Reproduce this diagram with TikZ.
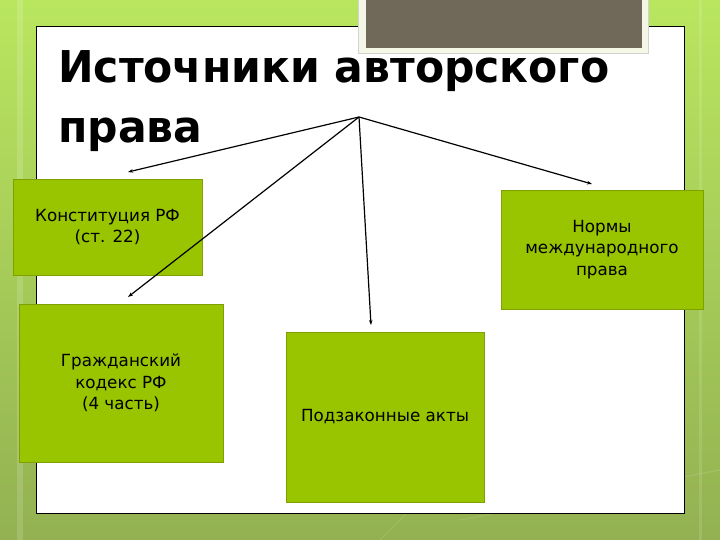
\documentclass[tikz,border=0pt]{standalone}
\usepackage{graphicx}
\usepackage{fontspec}
\setmainfont{DejaVu Sans}
\usetikzlibrary{arrows.meta}
\definecolor{bgtop}{HTML}{B9E65F}
\definecolor{bgbot}{HTML}{93B152}
\definecolor{boxfill}{HTML}{98C400}
\definecolor{boxline}{HTML}{7FA000}
\definecolor{graybox}{HTML}{706858}
\definecolor{framec}{HTML}{F4F6E6}
\tikzset{
  srcbox/.style={draw=boxline, fill=boxfill, line width=0.7bp, inner sep=0pt,
    align=center, font=\fontsize{16.8}{21.5}\selectfont},
  titletext/.style={anchor=base west, inner sep=0pt, font=\fontsize{44}{52}\selectfont\bfseries},
  conn/.style={line width=1.2bp, -{Stealth[length=5bp,width=3.5bp]}}
}
\begin{document}
\begin{tikzpicture}[x=1bp,y=-1bp]
\useasboundingbox (0,0) rectangle (720,540);
\shade[top color=bgtop, bottom color=bgbot] (0,0) rectangle (720,540);
\draw[white, opacity=0.15, line width=6bp] (20,0) -- (20,540);
\draw[white, opacity=0.12, line width=3bp] (700,0) -- (700,540);
\draw[white, opacity=0.12, line width=1bp] (380,540) -- (440,480);
\draw[white, opacity=0.12, line width=1bp] (460,520) -- (720,470);
% panel
\draw[fill=white, line width=0.8bp] (36,26) rectangle (684,513);
% frame with gray box
\draw[fill=framec, draw=gray!35, line width=0.6bp] (358,-2) rectangle (648,53);
\fill[graybox] (366,-2) rectangle (642,48);
% title
\node[titletext] (t1) at (58,83) {\scalebox{0.97}[1]{Источники авторского}};
\node[titletext] (t2) at (58,143) {\scalebox{0.97}[1]{права}};
\coordinate (apex) at (359,117);
% boxes
\node[srcbox, minimum width=189bp, minimum height=96bp] (konst) at (107.5,227) {Конституция РФ\\(ст. 22)};
\node[srcbox, minimum width=204bp, minimum height=158bp] (gk) at (121,383) {Гражданский\\кодекс РФ\\(4 часть)};
\node[srcbox, minimum width=198bp, minimum height=170bp] (podz) at (385,417) {Подзаконные акты};
\node[srcbox, minimum width=202bp, minimum height=119bp] (norm) at (602,249.5) {Нормы\\международного\\права};
% arrow tips
\coordinate (e1) at (128,172);
\coordinate (e2) at (128,297);
\coordinate (e3) at (371,325);
\coordinate (e4) at (592,184);
\draw[conn] (apex) -- (e1);
\draw[conn] (apex) -- (e2);
\draw[conn] (apex) -- (e3);
\draw[conn] (apex) -- (e4);
\end{tikzpicture}
\end{document}
